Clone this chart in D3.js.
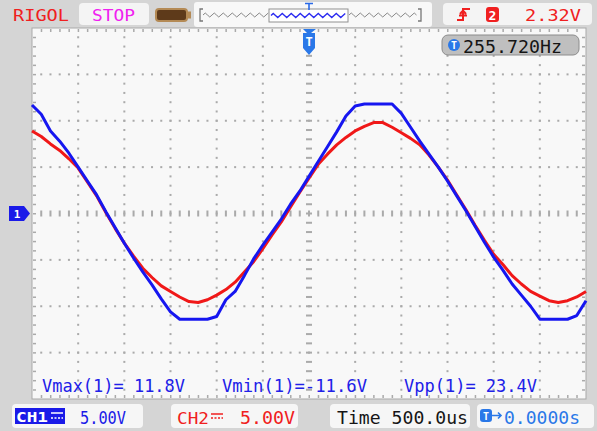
<!DOCTYPE html>
<meta charset="utf-8">
<style>
  body { margin: 0; background: #d5d5d5; }
  svg { display: block; }
  text { font-family: "DejaVu Sans Mono", monospace; }
</style>
<body>
<div id="scope"></div>
<script src="https://d3js.org/d3.v7.min.js"></script>
<script>

// captured samples (volts), one every 100 us starting at -3000 us
var sampleStart = -3000, sampleStep = 100;
var ch1 = [11.7, 10.7, 8.9, 7.8, 6.5, 5.0, 3.5, 2.0, 0.2, -1.5,
  -3.2, -4.8, -6.3, -7.7, -9.2, -10.6, -11.4, -11.4, -11.4, -11.4,
  -11.1, -9.3, -8.4, -6.7, -4.9, -3.4, -2.0, -0.6, 1.0, 2.4,
  4.0, 5.6, 7.2, 8.8, 10.5, 11.6, 11.8, 11.8, 11.8, 11.8,
  10.8, 9.3, 7.8, 6.4, 5.0, 3.5, 1.9, 0.3, -1.4, -3.1,
  -4.7, -6.1, -7.6, -8.8, -10.0, -11.4, -11.4, -11.4, -11.4, -11.0,
  -9.4];
var ch2 = [8.9, 8.3, 7.5, 6.8, 5.9, 4.9, 3.4, 1.9, 0.1, -1.6,
  -3.2, -4.6, -5.9, -6.9, -7.8, -8.4, -9.0, -9.5, -9.6, -9.3,
  -8.8, -8.2, -7.4, -6.3, -5.2, -3.8, -2.3, -0.9, 0.7, 2.3,
  3.8, 5.3, 6.4, 7.4, 8.2, 8.9, 9.4, 9.8, 9.8, 9.3,
  8.7, 8.1, 7.4, 6.3, 5.0, 3.6, 2.0, 0.4, -1.3, -2.9,
  -4.4, -5.5, -6.7, -7.6, -8.4, -8.9, -9.4, -9.6, -9.4, -9.0,
  -8.4];

var measureLabels = ["Vmax(1)= 11.8V", "Vmin(1)=-11.6V", "Vpp(1)= 23.4V"];
var chLabels = ["CH1", "CH2"];
var voltsPerDiv = ["5.00V", "5.00V"];
var timeLabel = "Time 500.0us";
var trigPosLabel = "0.0000s";
var trigLevelLabel = "2.32V";
var freqLabel = "255.720Hz";

var W = 597, H = 431;
var gl = 32, gr = 586, gt = 28, gb = 399;

var svg = d3.select("#scope").append("svg")
  .attr("width", W).attr("height", H);

svg.append("rect").attr("width", W).attr("height", H).attr("fill", "#d5d5d5");

// scales: 12 div x 500us, 8 div x 5V
var x = d3.scaleLinear().domain([-3000, 3000]).range([gl, gr]);
var y = d3.scaleLinear().domain([-20, 20]).range([gb, gt]);

// grid area
svg.append("rect")
  .attr("x", gl).attr("y", gt).attr("width", gr - gl).attr("height", gb - gt)
  .attr("fill", "#f8f8f8").attr("stroke", "#a9a9a9").attr("stroke-width", 1);

var grid = svg.append("g").attr("fill", "#aaaaaa");
var majorX = d3.range(-2500, 2501, 500).filter(function(d) { return d !== 0; });
var majorY = d3.range(-15, 16, 5).filter(function(d) { return d !== 0; });
var minorX = d3.range(-2900, 2901, 100);
var minorY = d3.range(-19, 20, 1);

// dotted major lines
majorX.forEach(function(t) {
  minorY.forEach(function(v) {
    grid.append("rect").attr("x", x(t) - 1).attr("y", y(v) - 1).attr("width", 2).attr("height", 2);
  });
});
majorY.forEach(function(v) {
  minorX.forEach(function(t) {
    grid.append("rect").attr("x", x(t) - 1).attr("y", y(v) - 1).attr("width", 2).attr("height", 2);
  });
});

// centre axes with ticks
minorX.forEach(function(t) {
  grid.append("rect").attr("x", x(t) - 1).attr("y", y(0) - 3).attr("width", 2).attr("height", 6);
});
minorY.forEach(function(v) {
  grid.append("rect").attr("x", x(0) - 3).attr("y", y(v) - 1).attr("width", 6).attr("height", 2);
});

// border ticks
minorX.forEach(function(t) {
  grid.append("rect").attr("x", x(t) - 0.5).attr("y", gt + 1).attr("width", 1.5).attr("height", 3);
  grid.append("rect").attr("x", x(t) - 0.5).attr("y", gb - 4).attr("width", 1.5).attr("height", 3);
});
minorY.forEach(function(v) {
  grid.append("rect").attr("x", gl + 1).attr("y", y(v) - 0.5).attr("width", 3).attr("height", 1.5);
  grid.append("rect").attr("x", gr - 4).attr("y", y(v) - 0.5).attr("width", 3).attr("height", 1.5);
});

// traces
var line = d3.line()
  .x(function(d, i) { return x(sampleStart + i * sampleStep); })
  .y(function(d) { return y(d); });

svg.append("path").datum(ch2)
  .attr("d", line).attr("fill", "none")
  .attr("stroke", "#f01818").attr("stroke-width", 3).attr("stroke-linejoin", "round");
svg.append("path").datum(ch1)
  .attr("d", line).attr("fill", "none")
  .attr("stroke", "#1616f0").attr("stroke-width", 3).attr("stroke-linejoin", "round");

// measurements
var measX = [42, 222, 404], measW = [143, 145, 133];
svg.selectAll(".meas").data(measureLabels).enter().append("text")
  .attr("x", function(d, i) { return measX[i]; })
  .attr("y", 392)
  .attr("font-size", 17)
  .attr("textLength", function(d, i) { return measW[i]; })
  .attr("lengthAdjust", "spacingAndGlyphs")
  .attr("fill", "#2020e8")
  .text(function(d) { return d; });

// ---- top bar ----
svg.append("text").attr("x", 13).attr("y", 20.5).attr("font-size", 16.5)
  .attr("textLength", 56).attr("lengthAdjust", "spacingAndGlyphs")
  .attr("fill", "#f02020").text("RIGOL");

svg.append("rect").attr("x", 79).attr("y", 3).attr("width", 70).attr("height", 22).attr("rx", 4)
  .attr("fill", "#f4f4f4");
svg.append("text").attr("x", 92).attr("y", 20.5).attr("font-size", 16.5)
  .attr("textLength", 43).attr("lengthAdjust", "spacingAndGlyphs")
  .attr("fill", "#f020f0").text("STOP");

// battery-like icon
svg.append("rect").attr("x", 156).attr("y", 9).attr("width", 31).attr("height", 12).attr("rx", 3)
  .attr("fill", "#5e3a1a").attr("stroke", "#b48a55").attr("stroke-width", 2);
svg.append("rect").attr("x", 187).attr("y", 11.5).attr("width", 4).attr("height", 7)
  .attr("fill", "#b48a55");

// memory bar
svg.append("rect").attr("x", 194).attr("y", 2).attr("width", 238).attr("height", 25).attr("rx", 3)
  .attr("fill", "#f8f8f8");
function zigzag(x0, x1, yc) {
  var p = "M" + x0 + "," + yc, k = 0;
  for (var xx = x0 + 2.25; xx <= x1; xx += 2.25) {
    var dy = [-2, 0, 2, 0][k % 4];
    p += "L" + xx + "," + (yc + dy);
    k++;
  }
  return p;
}
svg.append("path").attr("d", "M203,9 H200 V21 H203").attr("fill", "none").attr("stroke", "#777").attr("stroke-width", 1.3);
svg.append("path").attr("d", "M418,9 H421 V21 H418").attr("fill", "none").attr("stroke", "#777").attr("stroke-width", 1.3);
svg.append("path").attr("d", zigzag(203, 269, 15)).attr("fill", "none").attr("stroke", "#888").attr("stroke-width", 1);
svg.append("path").attr("d", zigzag(349, 418, 15)).attr("fill", "none").attr("stroke", "#888").attr("stroke-width", 1);
svg.append("rect").attr("x", 269).attr("y", 9).attr("width", 79).attr("height", 13)
  .attr("fill", "#ffffff").attr("stroke", "#909090").attr("stroke-width", 1);
svg.append("path").attr("d", zigzag(271, 347, 15.5)).attr("fill", "none").attr("stroke", "#2a2af0").attr("stroke-width", 1.4);
svg.append("path").attr("d", "M305,3.5 H313 M309,3.5 V10").attr("stroke", "#2a6ae8").attr("stroke-width", 1.6);

// trigger box
svg.append("rect").attr("x", 443).attr("y", 3).attr("width", 149).attr("height", 22).attr("rx", 4)
  .attr("fill", "#f4f4f4");
svg.append("path").attr("d", "M457,20 H463 V9 H470 M460,14 L463,10.5 L466,14 M459,15.5 H467")
  .attr("fill", "none").attr("stroke", "#f02020").attr("stroke-width", 2);
svg.append("rect").attr("x", 486).attr("y", 7).attr("width", 13).attr("height", 15).attr("rx", 3)
  .attr("fill", "#f02020");
svg.append("text").attr("x", 492.5).attr("y", 19.5).attr("font-size", 13).attr("font-weight", "bold")
  .attr("text-anchor", "middle").attr("fill", "#ffffff").text("2");
svg.append("text").attr("x", 525).attr("y", 20.5).attr("font-size", 16.5)
  .attr("textLength", 56).attr("lengthAdjust", "spacingAndGlyphs")
  .attr("fill", "#f02020").text(trigLevelLabel);

// trigger position marker
svg.append("path")
  .attr("d", "M303,29 H316 L311,33 H315 V48 L309,55 L303,48 V33 H307 Z")
  .attr("fill", "#2a78e8");
svg.append("text").attr("x", 309).attr("y", 46).attr("font-size", 12).attr("font-weight", "bold")
  .attr("text-anchor", "middle").attr("fill", "#ffffff").text("T");

// frequency readout
svg.append("rect").attr("x", 442).attr("y", 35).attr("width", 137).attr("height", 20).attr("rx", 6)
  .attr("fill", "#bfbfbf").attr("stroke", "#8c8c8c").attr("stroke-width", 1);
svg.append("circle").attr("cx", 454).attr("cy", 45).attr("r", 6).attr("fill", "#2a78e8");
svg.append("text").attr("x", 454).attr("y", 49).attr("font-size", 10).attr("font-weight", "bold")
  .attr("text-anchor", "middle").attr("fill", "#ffffff").text("T");
svg.append("text").attr("x", 463).attr("y", 52.5).attr("font-size", 17)
  .attr("textLength", 99).attr("lengthAdjust", "spacingAndGlyphs")
  .attr("fill", "#151515").text(freqLabel);

// CH1 ground marker
svg.append("path").attr("d", "M9,206 H24 L30,213.5 L24,221 H9 Z").attr("fill", "#1a1ae8");
svg.append("text").attr("x", 17).attr("y", 218).attr("font-size", 11).attr("font-weight", "bold")
  .attr("text-anchor", "middle").attr("fill", "#ffffff").text("1");

// ---- bottom bar ----
var panels = [[12, 131], [171, 127], [330, 140], [477, 117]];
svg.selectAll(".panel").data(panels).enter().append("rect")
  .attr("x", function(d) { return d[0]; }).attr("y", 404)
  .attr("width", function(d) { return d[1]; }).attr("height", 24).attr("rx", 4)
  .attr("fill", "#f6f6f6");

// CH1
svg.append("rect").attr("x", 15).attr("y", 408).attr("width", 50).attr("height", 16).attr("fill", "#1a1ae8");
svg.append("text").attr("x", 16).attr("y", 421.5).attr("font-size", 14).attr("font-weight", "bold")
  .attr("textLength", 32).attr("lengthAdjust", "spacingAndGlyphs")
  .attr("fill", "#ffffff").text(chLabels[0]);
svg.append("path").attr("d", "M51,413 H63").attr("stroke", "#ffffff").attr("stroke-width", 1.5);
svg.append("path").attr("d", "M51,418 H63").attr("stroke", "#ffffff").attr("stroke-width", 1.5).attr("stroke-dasharray", "2,1.5");
svg.append("text").attr("x", 80).attr("y", 423.5).attr("font-size", 17)
  .attr("textLength", 46).attr("lengthAdjust", "spacingAndGlyphs")
  .attr("fill", "#1a1ae8").text(voltsPerDiv[0]);

// CH2
svg.append("text").attr("x", 177).attr("y", 423.5).attr("font-size", 16)
  .attr("textLength", 32).attr("lengthAdjust", "spacingAndGlyphs")
  .attr("fill", "#f02020").text(chLabels[1]);
svg.append("path").attr("d", "M211,414 H223").attr("stroke", "#f02020").attr("stroke-width", 1.5);
svg.append("path").attr("d", "M211,418 H223").attr("stroke", "#f02020").attr("stroke-width", 1.5).attr("stroke-dasharray", "2,1.5");
svg.append("text").attr("x", 240).attr("y", 423.5).attr("font-size", 17)
  .attr("textLength", 55).attr("lengthAdjust", "spacingAndGlyphs")
  .attr("fill", "#f02020").text(voltsPerDiv[1]);

// timebase
svg.append("text").attr("x", 337).attr("y", 423.5).attr("font-size", 17)
  .attr("textLength", 131).attr("lengthAdjust", "spacingAndGlyphs")
  .attr("fill", "#151515").text(timeLabel);

// trigger offset
svg.append("rect").attr("x", 480).attr("y", 409).attr("width", 12).attr("height", 13).attr("rx", 3).attr("fill", "#2a78e8");
svg.append("text").attr("x", 486).attr("y", 419.5).attr("font-size", 10).attr("font-weight", "bold")
  .attr("text-anchor", "middle").attr("fill", "#ffffff").text("T");
svg.append("path").attr("d", "M492,415.5 H501 M498,412.5 L501,415.5 L498,418.5")
  .attr("fill", "none").attr("stroke", "#2a78e8").attr("stroke-width", 1.6);
svg.append("text").attr("x", 504).attr("y", 423.5).attr("font-size", 17)
  .attr("textLength", 76).attr("lengthAdjust", "spacingAndGlyphs")
  .attr("fill", "#2a78e8").text(trigPosLabel);

</script>
</body>
